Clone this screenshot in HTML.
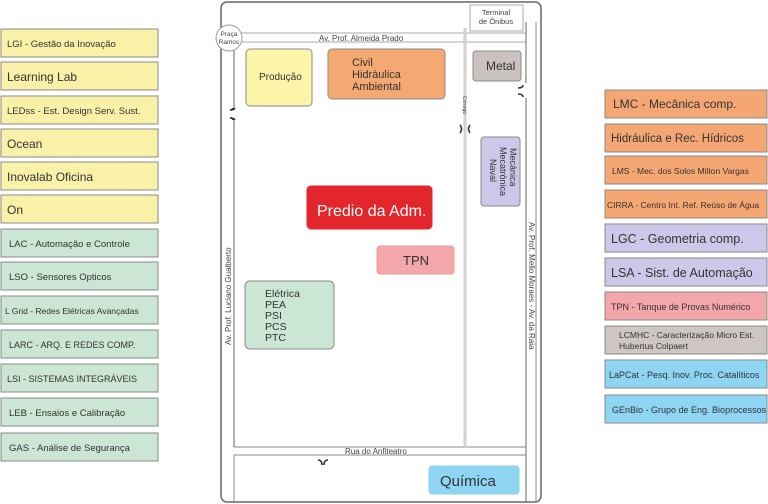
<!DOCTYPE html>
<html><head><meta charset="utf-8"><style>
body{margin:0;background:#fff;}
svg{display:block;font-family:"Liberation Sans",sans-serif;}
</style></head><body>
<svg width="768" height="504" viewBox="0 0 768 504" xmlns="http://www.w3.org/2000/svg">
<g stroke="#8a8a8a" stroke-width="1" font-size="11" fill="#333">
<g fill="#f9f1a8">
<rect x="1" y="29" width="157" height="28"/><rect x="1" y="62" width="157" height="28"/>
<rect x="1" y="96" width="157" height="28"/><rect x="1" y="129" width="157" height="28"/>
<rect x="1" y="162" width="157" height="28"/><rect x="1" y="195" width="157" height="28"/>
</g>
<g fill="#cbe6d4">
<rect x="1" y="229" width="157" height="28"/><rect x="1" y="262" width="157" height="28"/>
<rect x="1" y="296" width="157" height="28"/><rect x="1" y="330" width="157" height="28"/>
<rect x="1" y="364" width="157" height="28"/><rect x="1" y="398" width="157" height="28"/>
<rect x="1" y="433" width="157" height="28"/>
</g>
<g fill="#f5a773">
<rect x="605" y="90" width="162" height="28"/><rect x="605" y="124" width="162" height="28"/>
<rect x="605" y="156" width="162" height="28"/><rect x="605" y="190" width="162" height="28"/>
</g>
<g fill="#cdc8e9"><rect x="605" y="224" width="162" height="28"/><rect x="605" y="258" width="162" height="28"/></g>
<rect x="605" y="292" width="162" height="28" fill="#f4a7aa"/>
<rect x="605" y="326" width="162" height="28" fill="#cdc6c2"/>
<g fill="#8dd5f2"><rect x="605" y="360" width="162" height="28"/><rect x="605" y="395" width="162" height="28"/></g>
</g>
<g font-size="9.5" fill="#333">
<text x="7" y="47">LGI - Gestão da Inovação</text>
<text x="7" y="81" font-size="12">Learning Lab</text>
<text x="7" y="114">LEDss - Est. Design Serv. Sust.</text>
<text x="7" y="148" font-size="12">Ocean</text>
<text x="7" y="181" font-size="12">Inovalab Oficina</text>
<text x="7" y="214" font-size="12">On</text>
<text x="9" y="247">LAC - Automação e Controle</text>
<text x="9" y="280">LSO - Sensores Opticos</text>
<text x="5" y="314" font-size="8.5">L Grid - Redes Elétricas Avançadas</text>
<text x="9" y="348" font-size="9">LARC - ARQ. E REDES COMP.</text>
<text x="7" y="382" font-size="9">LSI  - SISTEMAS INTEGRÁVEIS</text>
<text x="9" y="416">LEB - Ensaios e Calibração</text>
<text x="9" y="451">GAS - Análise de Segurança</text>
<text x="613" y="108" font-size="12">LMC - Mecânica comp.</text>
<text x="611" y="142" font-size="11.5">Hidráulica e Rec. Hídricos</text>
<text x="612" y="174" font-size="8.5">LMS - Mec. dos Solos Milton Vargas</text>
<text x="607" y="208" font-size="8.5">CIRRA - Centro Int. Ref. Reúso de Água</text>
<text x="611" y="243" font-size="12.5">LGC - Geometria comp.</text>
<text x="611" y="277" font-size="12.5">LSA - Sist. de Automação</text>
<text x="611" y="310" font-size="9">TPN - Tanque de Provas Numérico</text>
<text x="619" y="338" font-size="8.5">LCMHC - Caracterização Micro Est.</text>
<text x="619" y="349" font-size="8.5">Hubertus Colpaert</text>
<text x="609" y="378" font-size="9">LaPCat - Pesq. Inov. Proc. Catalíticos</text>
<text x="612" y="413" font-size="9">GEnBio - Grupo de Eng. Bioprocessos</text>
</g>
<g fill="none" stroke="#666" stroke-width="1">
<rect x="221" y="2" width="320" height="500" rx="6" stroke-width="1.5"/>
<line x1="232" y1="33" x2="526" y2="33" stroke="#aaa"/>
<line x1="242" y1="42" x2="526" y2="42" stroke="#aaa"/>
<line x1="234" y1="50" x2="234" y2="108"/>
<line x1="234" y1="120" x2="234" y2="447"/>
<g stroke="#333" stroke-width="1.6">
<path d="M233 108 q0 2 -3 2 M233 120 q0 -2 -3 -2" transform="translate(0,0)"/>
<path d="M230 110 q4 0 5 -2 M230 118 q4 0 5 2"/>
<path d="M518 88 q5 0 5 -3 M518 94 q5 0 5 3"/>
<path d="M318 460 q4 0 4 5 M328 460 q-4 0 -4 5"/>
<path d="M460 125 q3 4 0 8 M470 125 q-3 4 0 8"/>
</g>
<line x1="526" y1="22" x2="526" y2="83"/>
<line x1="526" y1="98" x2="526" y2="502"/>
<line x1="536" y1="22" x2="536" y2="502" stroke="#888"/>
<line x1="234" y1="447" x2="526" y2="447" stroke="#888"/>
<line x1="234" y1="455" x2="526" y2="455" stroke="#888"/>
<line x1="234" y1="455" x2="234" y2="502" stroke="#888"/>
</g>
<line x1="465" y1="28" x2="465" y2="447" stroke="#d6d0cc" stroke-width="3"/>
<circle cx="229" cy="38" r="13" fill="#fff" stroke="#999"/>
<text x="229" y="36" font-size="6.5" fill="#444" text-anchor="middle">Praça</text>
<text x="229" y="44" font-size="6.5" fill="#444" text-anchor="middle">Ramos</text>
<rect x="470" y="5" width="53" height="26" fill="#fff" stroke="#aaa"/>
<text x="496" y="15" font-size="7.5" fill="#444" text-anchor="middle">Terminal</text>
<text x="496" y="24" font-size="7.5" fill="#444" text-anchor="middle">de Ônibus</text>
<text x="319" y="41" font-size="8" fill="#444">Av. Prof. Almeida Prado</text>
<text x="345" y="454" font-size="8" fill="#444">Rua do Anfiteatro</text>
<text transform="translate(231,345) rotate(-90)" font-size="8" fill="#444">Av. Prof. Luciano Gualberto</text>
<text transform="translate(529,222) rotate(90)" font-size="8" fill="#444">Av. Prof. Mello Moraes   - Av. da Raia</text>
<text transform="translate(463,96) rotate(90)" font-size="5" fill="#444">Córrego</text>
<g stroke="#8a8a8a">
<rect x="246" y="49" width="66" height="57" rx="4" fill="#fbf4a9"/>
<rect x="328" y="49" width="117" height="50" rx="4" fill="#f4a872"/>
<rect x="473" y="51" width="48" height="30" rx="3" fill="#c9c2bf"/>
<rect x="481" y="137" width="39" height="69" rx="3" fill="#cdc8e9"/>
<rect x="307" y="186" width="125" height="43" rx="4" fill="#e3262b" stroke="#e3262b"/>
<rect x="377" y="246" width="77" height="28" rx="3" fill="#f4a7aa" stroke="#e99"/>
<rect x="245" y="281" width="89" height="68" rx="5" fill="#cbe6d4"/>
<rect x="429" y="466" width="90" height="28" rx="3" fill="#8dd5f2" stroke="#8dd5f2"/>
</g>
<g fill="#333">
<text x="259" y="80" font-size="10">Produção</text>
<text x="352" y="66" font-size="11">Civil</text>
<text x="352" y="78" font-size="11">Hidráulica</text>
<text x="352" y="90" font-size="11">Ambiental</text>
<text x="486" y="70" font-size="12">Metal</text>
<g font-size="9" transform="rotate(90)">
<text x="148" y="-510">Mecânica</text>
<text x="147" y="-500">Mecatrônica</text>
<text x="159" y="-490">Naval</text>
</g>
<text x="317" y="216" font-size="16" fill="#fff">Predio da Adm.</text>
<text x="403" y="265" font-size="13">TPN</text>
<g font-size="10.5"><text x="265" y="297">Elétrica</text><text x="265" y="308">PEA</text><text x="265" y="319">PSI</text><text x="265" y="330">PCS</text><text x="265" y="341">PTC</text></g>
<text x="440" y="486" font-size="15">Química</text>
</g>
</svg>
</body></html>
